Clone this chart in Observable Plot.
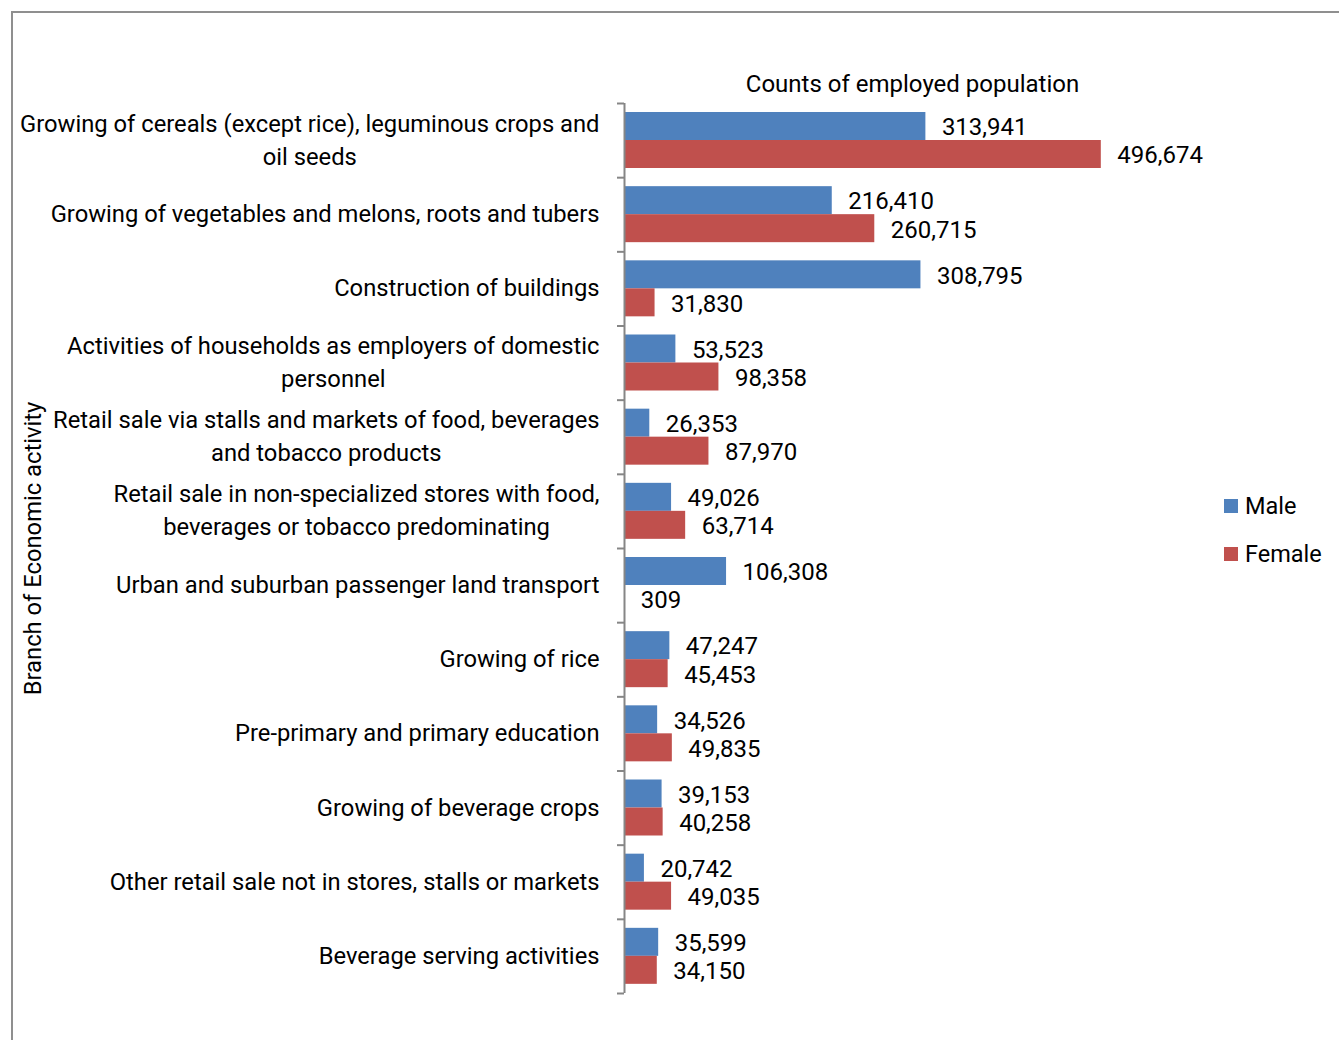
<!DOCTYPE html>
<html>
<head>
<meta charset="utf-8">
<script src="https://cdn.jsdelivr.net/npm/d3@7"></script>
<script src="https://cdn.jsdelivr.net/npm/@observablehq/plot@0.6"></script>
<style>
  html, body { margin: 0; padding: 0; background: #fff; overflow: hidden; }
  #page { position: relative; width: 1339px; height: 1040px; font-family: Roboto, sans-serif; }
  #border { position: absolute; left: 11px; top: 11px; width: 1340px; height: 1040px;
            border-top: 2px solid #8f8f8f; border-left: 2px solid #8f8f8f; box-sizing: border-box; }
  #chart { position: absolute; left: 0; top: 0; }
  .legend-item { position: absolute; left: 1224px; height: 30px; display: flex; align-items: center;
                 font-size: 23.5px; color: #000; }
  .legend-item .sw { width: 14px; height: 14px; margin-right: 7px; }
</style>
</head>
<body>
<div id="page">
  <div id="border"></div>
  <div id="chart"></div>
</div>
<script>
const categories = [
  "Growing of cereals (except rice), leguminous crops and\noil seeds",
  "Growing of vegetables and melons, roots and tubers",
  "Construction of buildings",
  "Activities of households as employers of domestic\npersonnel",
  "Retail sale via stalls and markets of food, beverages\nand tobacco products",
  "Retail sale in non-specialized stores with food,\nbeverages or tobacco predominating",
  "Urban and suburban passenger land transport",
  "Growing of rice",
  "Pre-primary and primary education",
  "Growing of beverage crops",
  "Other retail sale not in stores, stalls or markets",
  "Beverage serving activities"
];
const male = [313941, 216410, 308795, 53523, 26353, 49026, 106308, 47247, 34526, 39153, 20742, 35599];
const female = [496674, 260715, 31830, 98358, 87970, 63714, 309, 45453, 49835, 40258, 49035, 34150];
const series = ["Male", "Female"];
const colors = ["#4F81BD", "#C0504D"];
const title = "Counts of employed population";
const yLabel = "Branch of Economic activity";

const rows = [];
categories.forEach((c, i) => {
  rows.push({category: c, sex: "Male", value: male[i]});
  rows.push({category: c, sex: "Female", value: female[i]});
});
const maleRows = rows.filter(d => d.sex === "Male");
const femaleRows = rows.filter(d => d.sex === "Female");

const W = 1339, H = 1040;
const mTop = 103, mBottom = 47, mLeft = 624, mRight = 139;
const bw = (H - mTop - mBottom) / categories.length;
const barH = 28, outer = 9;
const FS = 24, CFS = 23.75;
const fmt = d3.format(",");

const ctx = document.createElement("canvas").getContext("2d");
ctx.font = `${CFS}px Roboto`;
const textW = s => d3.max(s.split("\n"), l => ctx.measureText(l).width);

const labelMarks = categories.map(c =>
  Plot.text([c], {
    y: d => d, text: d => d, frameAnchor: "left", textAnchor: "middle", lineAnchor: "middle",
    dx: -(25 + textW(c) / 2), dy: -3, lineHeight: 1.39, fontSize: CFS, fill: "#000"
  })
);

const plot = Plot.plot({
  width: W, height: H,
  marginTop: mTop, marginBottom: mBottom, marginLeft: mLeft, marginRight: mRight,
  style: {fontFamily: "Roboto, sans-serif", fontSize: FS + "px", color: "#000", background: "transparent"},
  x: {domain: [0, 600000], axis: null},
  y: {type: "band", domain: categories, padding: 0, round: false, axis: null},
  color: {domain: series, range: colors},
  marks: [
    Plot.barX(maleRows, {x: "value", y: "category", fill: "sex", insetTop: outer, insetBottom: bw - outer - barH}),
    Plot.barX(femaleRows, {x: "value", y: "category", fill: "sex", insetTop: outer + barH, insetBottom: bw - outer - 2 * barH}),
    Plot.text(maleRows, {x: "value", y: "category", text: d => fmt(d.value), textAnchor: "start",
      dx: 16, dy: -(bw / 2 - outer - barH / 2) + 1, fontSize: FS, fill: "#000"}),
    Plot.text(femaleRows, {x: "value", y: "category", text: d => fmt(d.value), textAnchor: "start",
      dx: 16, dy: (bw / 2 - outer - barH / 2) + 1, fontSize: FS, fill: "#000"}),
    Plot.ruleX([0], {stroke: "#868686", strokeWidth: 2}),
    Plot.axisY({tickSize: 7, tickFormat: () => "", dy: -bw / 2, stroke: "#868686", strokeWidth: 2, label: null}),
    Plot.axisY({ticks: [categories[categories.length - 1]], tickSize: 7, tickFormat: () => "", dy: bw / 2,
      stroke: "#868686", strokeWidth: 2, label: null}),
    ...labelMarks,
    Plot.text([yLabel], {text: d => d, frameAnchor: "left", textAnchor: "middle", lineAnchor: "middle",
      rotate: -90, dx: -(mLeft - 33), fontSize: CFS, fill: "#000"}),
    Plot.text([title], {text: d => d, frameAnchor: "top", textAnchor: "middle", lineAnchor: "middle",
      dy: -19, fontSize: FS, fill: "#000"})
  ]
});
document.getElementById("chart").appendChild(plot);

const page = document.getElementById("page");
const legendTops = [506, 554];
series.forEach((s, i) => {
  const item = document.createElement("div");
  item.className = "legend-item";
  item.style.top = (legendTops[i] - 15) + "px";
  const sw = document.createElement("div");
  sw.className = "sw";
  sw.style.background = plot.scale("color").apply(s);
  const tx = document.createElement("span");
  tx.textContent = s;
  item.appendChild(sw);
  item.appendChild(tx);
  page.appendChild(item);
});
</script>
</body>
</html>
